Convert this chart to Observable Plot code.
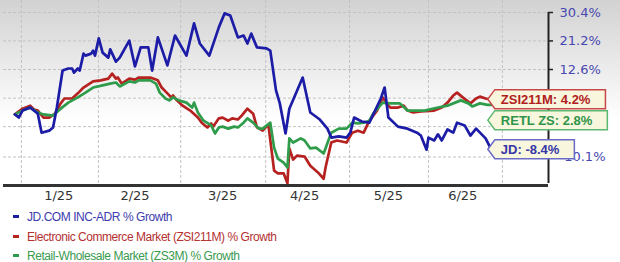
<!DOCTYPE html>
<html><head><meta charset="utf-8">
<script src="https://cdn.jsdelivr.net/npm/d3@7"></script>
<script src="https://cdn.jsdelivr.net/npm/@observablehq/plot@0.6"></script>
<style>
html,body{margin:0;padding:0;background:#fff;width:620px;height:262px;overflow:hidden}
#legend{padding-left:13px;font-family:"Liberation Sans",Arial,sans-serif}
.row{height:19.5px;line-height:19.5px;font-size:12px;letter-spacing:-0.45px;white-space:nowrap}
.dash{display:inline-block;width:6px;height:3px;vertical-align:middle;margin-right:8px;position:relative;top:-1px}
</style></head><body><div id="chart"></div><div id="legend"></div>
<script>
// x axis (trading-day index since start of the window)
const xTickDays = [11.5, 31.5, 54.5, 76, 98, 117.5];
const xTickLabels = ["1/25", "2/25", "3/25", "4/25", "5/25", "6/25"];
const gridDays = [1.7, 21.9, 43.5, 65.8, 87.8, 108.5, 127.9];
// y axis (% growth, log of growth factor)
const gridPct = [30.4, 21.2, 12.6, 4.6, -2.8, -10.1];
const axisPct = [30.4, 21.2, 12.6, -10.1];
const axisLabels = ["30.4%", "21.2%", "12.6%", "-10.1%"];

const seriesNames = ["JD.COM INC-ADR % Growth", "Electronic Commerce Market (ZSI211M) % Growth", "Retail-Wholesale Market (ZS3M) % Growth"];
const tagNames = ["JD", "ZSI211M", "RETL ZS"];

const jdDays = [0,1,2,4,6,7,9,10,11,12.5,14,15,15.5,16.5,17,18,18.5,20,20.5,21,22,23,24.5,25,26.5,27.5,30,31.5,33,35,36,37.5,40,42,45,47,48.5,51,53.5,55,56.5,58.5,60,61,62,63.5,66,67,68.5,69.5,71,72,75.5,77.5,80,82,83,85,87,88,89,91,93,96,97,98,100.5,103,105.5,106.5,108,108.5,110,111,112,113.5,115,116,118,119.5,121,123.5,125];
const jdPct = [0.3,-0.5,1.3,2.1,0.5,-4.3,-3.8,-3.0,2.1,12.3,12.9,12.9,11.7,12.9,12.3,17.3,16.7,17.3,18.2,16.7,22.0,17.6,16.1,18.6,14.9,16.1,21.3,13.5,19.2,19.2,12.3,22.3,13.8,22.9,16.7,26.8,20.4,16.7,25.5,30.1,29.4,22.3,22.9,20.4,23.5,19.2,18.9,18.2,6.7,3.2,-4.5,1.8,10.3,0.8,-1.0,-3.3,-5.5,-5.2,-5.5,-4.3,-0.5,-1.5,-1.8,4.5,7.5,-0.5,-2.8,-3.3,-4.3,-5.0,-8.4,-5.5,-6.2,-4.7,-6.2,-3.5,-4.3,-1.8,-2.5,-5.0,-3.3,-5.7,-8.4];

const ecomDays = [0,2,4,5,6,7.5,9,10.5,12,13,15,16.5,18,20.5,22.5,24.5,25.5,26.5,27,28,30,31.5,32.5,35.5,37.5,38.5,40,41,41.5,42.5,44,46,48,49,50.5,51.5,52,53.5,54.5,56,57,58.5,59.5,61,62.5,63.5,65,66.5,68,69,70.5,71.5,72,73,74,76,77.5,79.5,81,81.5,83,84.5,87,88.5,90,91.5,93,95,96.5,97.5,98.5,100.5,102,103,104.5,106.5,110,112,113.5,115,116,117.5,119.5,121,122,123.5,125];
const ecomPct = [0.3,1.8,2.6,1.6,1.3,-0.5,-0.5,0.5,3.2,4.5,4.5,5.9,7.5,9.2,9.5,10.0,11.4,10.0,10.3,8.6,10.0,9.7,10.3,10.3,9.5,7.5,5.9,4.8,5.3,4.0,2.6,1.3,-0.5,-1.8,-3.0,-2.0,-2.8,-0.7,-0.5,-1.3,-0.7,-1.0,0.0,1.8,0.5,-3.0,-3.8,-2.3,-13.2,-13.8,-13.8,-16.0,-8.1,-10.7,-9.8,-10.0,-12.1,-13.6,-15.0,-12.5,-6.7,-6.2,-6.7,-4.3,-3.8,-4.3,-1.3,1.3,4.8,3.2,2.1,2.1,2.6,1.3,0.8,1.1,1.3,2.1,3.4,5.3,6.1,4.8,3.2,4.5,5.0,4.5,4.2];

const retlDays = [0,2,4,6,7.5,10,12,14,16.5,18.5,20.5,23,25,26.5,27.5,30,31.5,32.5,35.5,37,38,39.5,40.5,41.5,43,45,46.5,47,48,49.5,51.5,52.5,53.5,54.5,56,57.5,58.5,60,61,62.5,64,65,67,68,69,70.5,71.5,72,73,75,76,77.5,79,81,83,85,87,88.5,90,91.5,93,94,96.5,98.5,101,103,105.5,107.5,111,113.5,115.5,117,119,120,122,124,125];
const retlPct = [0.3,1.3,2.1,0.8,0.3,0.0,1.8,3.4,4.8,6.1,7.5,8.1,8.6,8.9,7.8,9.2,8.9,9.5,9.5,8.6,6.1,4.5,4.0,4.8,4.0,3.4,2.1,3.4,0.8,-1.3,-2.5,-4.5,-3.0,-2.8,-3.3,-2.8,-3.0,-1.8,-0.7,-1.8,-3.3,-3.3,-1.8,-7.9,-10.5,-11.4,-12.5,-5.7,-6.7,-5.7,-6.2,-8.1,-7.9,-9.3,-4.3,-3.3,-3.3,-1.8,-2.0,-1.8,-1.3,0.5,3.4,3.2,3.2,1.3,1.3,1.3,2.1,2.6,3.4,4.0,3.2,2.4,3.2,2.8,2.8];

const colors = ["#1c1ca6", "#b52220", "#2f9c4c"];
const tagStroke = ["#6a6ac8", "#c84848", "#5cb870"];
const tagText = ["#3535a8", "#b02020", "#2f9448"];
const legendText = ["#3c3cae", "#b53030", "#3a9a50"];

const xDomain = [-3, 140];
const yDomain = [0.8332, 1.3449];

const mk = (days, pct) => days.map((d, i) => ({day: d, pct: pct[i]}));
const jd = mk(jdDays, jdPct), ecom = mk(ecomDays, ecomPct), retl = mk(retlDays, retlPct);
const all = [jd, ecom, retl];
const f = p => 1 + p / 100;

const chart = Plot.plot({
  width: 620, height: 208,
  marginLeft: 3, marginRight: 72, marginTop: 0, marginBottom: 22,
  style: {fontFamily: "DejaVu Sans", fontSize: "13px"},
  x: {domain: xDomain, axis: null},
  y: {type: "log", domain: yDomain, axis: null},
  marks: [
    Plot.ruleY(gridPct, {y: f, stroke: "#c2c2c2", strokeDasharray: "3,2"}),
    Plot.ruleX(gridDays, {x: d => d, stroke: "#c2c2c2", strokeDasharray: "3,2"}),
    Plot.line(ecom, {x: "day", y: d => f(d.pct), stroke: colors[1], strokeWidth: 2.7}),
    Plot.line(retl, {x: "day", y: d => f(d.pct), stroke: colors[2], strokeWidth: 2.7}),
    Plot.line(jd, {x: "day", y: d => f(d.pct), stroke: colors[0], strokeWidth: 2.7}),
    Plot.ruleY([yDomain[0]], {stroke: "#333", strokeWidth: 3, dy: -1}),
    Plot.ruleX([xDomain[1]], {y1: yDomain[0], y2: f(axisPct[0]), insetTop: -3, stroke: "#222", strokeWidth: 2}),
    Plot.ruleY(axisPct, {y: f, x1: xDomain[1], x2: xDomain[1], insetRight: -5, stroke: "#222", strokeWidth: 1.5}),
    Plot.text(axisPct, {y: f, text: (d, i) => axisLabels[i], frameAnchor: "right", dx: 11, textAnchor: "start", fill: "#4848b0", fontSize: 13}),
    Plot.text(xTickDays, {x: d => d, text: (d, i) => xTickLabels[i], frameAnchor: "bottom", dy: 13, fill: "#333", fontSize: 13})
  ]
});
const svg = d3.select(chart).style("background", "linear-gradient(#d2d2d2, #ffffff 120px)").style("display", "block");
document.getElementById("chart").appendChild(chart);

// end-of-line tags, positioned through the plot's own scales
const sx = chart.scale("x"), sy = chart.scale("y");
const X = sx.apply ? v => sx.apply(v) : Plot.scale(sx).apply;
const Y = sy.apply ? v => sy.apply(v) : Plot.scale(sy).apply;
const g = svg.append("g").attr("text-anchor", "start");
const items = all.map((s, k) => ({k, last: s[s.length - 1]})).sort((a, b) => b.last.pct - a.last.pct);
const h = 19, gap = 2;
let prevBottom = -Infinity;
for (const it of items) {
  let cy = Y(f(it.last.pct));
  cy = Math.max(cy, prevBottom + gap + h / 2);
  prevBottom = cy + h / 2;
  const label = `${tagNames[it.k]}: ${it.last.pct.toFixed(1)}%`;
  const x0 = X(it.last.day) - 3;
  const t = g.append("text").attr("x", x0 + 13).attr("y", cy).attr("dy", "0.36em")
    .attr("text-anchor", "start")
    .attr("font-family", "Liberation Sans").attr("font-weight", "bold").attr("font-size", 13)
    .attr("fill", tagText[it.k]).text(label);
  const tw = t.node().getComputedTextLength();
  const x1 = x0 + 13 + tw + 15;
  const pts = [[x0, cy], [x0 + 7, cy - h / 2], [x1, cy - h / 2], [x1, cy + h / 2], [x0 + 7, cy + h / 2]];
  g.insert("polygon", () => t.node()).attr("points", pts.map(p => p.join(",")).join(" "))
    .attr("fill", "#f8f6dc").attr("stroke", tagStroke[it.k]).attr("stroke-width", 1.5);
}

const legend = d3.select("#legend");
seriesNames.forEach((name, i) => {
  const row = legend.append("div").attr("class", "row").style("color", legendText[i]);
  row.append("span").attr("class", "dash").style("background", colors[i]);
  row.append("span").text(name);
});
</script></body></html>
